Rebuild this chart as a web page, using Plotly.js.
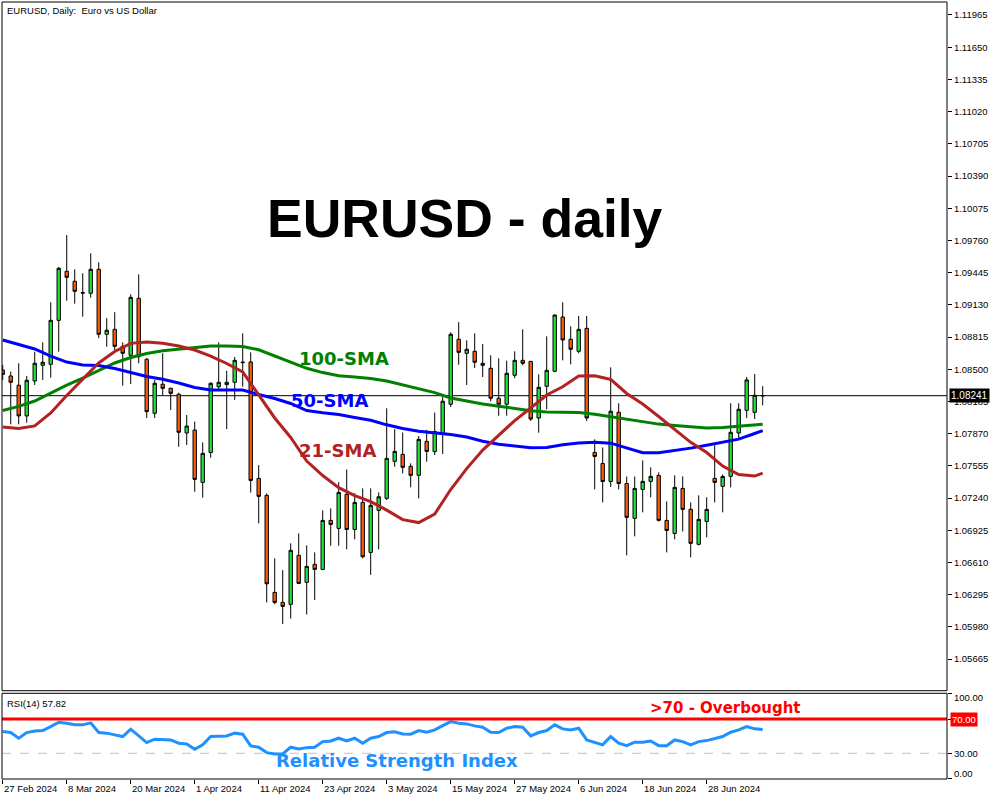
<!DOCTYPE html>
<html><head><meta charset="utf-8">
<script src="https://cdn.plot.ly/plotly-3.0.1.min.js"></script>
<style>html,body{margin:0;padding:0;background:#fff}#chart{width:1000px;height:800px}</style>
</head><body><div id="chart"></div>
<script>
// ---------- DATA ----------
const dates = [
 '2024-02-27','2024-02-28','2024-02-29',
 '2024-03-01','2024-03-04','2024-03-05','2024-03-06','2024-03-07','2024-03-08','2024-03-11','2024-03-12','2024-03-13','2024-03-14','2024-03-15','2024-03-18','2024-03-19','2024-03-20','2024-03-21','2024-03-22','2024-03-25','2024-03-26','2024-03-27','2024-03-28','2024-03-29',
 '2024-04-01','2024-04-02','2024-04-03','2024-04-04','2024-04-05','2024-04-08','2024-04-09','2024-04-10','2024-04-11','2024-04-12','2024-04-15','2024-04-16','2024-04-17','2024-04-18','2024-04-19','2024-04-22','2024-04-23','2024-04-24','2024-04-25','2024-04-26','2024-04-29','2024-04-30',
 '2024-05-01','2024-05-02','2024-05-03','2024-05-06','2024-05-07','2024-05-08','2024-05-09','2024-05-10','2024-05-13','2024-05-14','2024-05-15','2024-05-16','2024-05-17','2024-05-20','2024-05-21','2024-05-22','2024-05-23','2024-05-24','2024-05-27','2024-05-28','2024-05-29','2024-05-30','2024-05-31',
 '2024-06-03','2024-06-04','2024-06-05','2024-06-06','2024-06-07','2024-06-10','2024-06-11','2024-06-12','2024-06-13','2024-06-14','2024-06-17','2024-06-18','2024-06-19','2024-06-20','2024-06-21','2024-06-24','2024-06-25','2024-06-26','2024-06-27','2024-06-28',
 '2024-07-01','2024-07-02','2024-07-03','2024-07-04','2024-07-05','2024-07-08','2024-07-09'
];
const openP = [1.08492,1.08434,1.08343,1.08043,1.08385,1.08538,1.08548,1.08978,1.09458,1.09360,
 1.09250,1.09243,1.09477,1.08842,1.08890,1.08724,1.08636,1.09194,1.08597,1.08069,
 1.08353,1.08313,1.08255,1.07876,1.07905,1.07393,1.07686,1.08329,1.08350,1.08372,
 1.08570,1.08571,1.07432,1.07266,1.06317,1.06219,1.06200,1.06679,1.06415,1.06591,
 1.06542,1.07021,1.06943,1.07276,1.06933,1.07197,1.06708,1.07119,1.07237,1.07599,
 1.07667,1.07550,1.07462,1.07794,1.07694,1.07870,1.08157,1.08793,1.08656,1.08675,
 1.08558,1.08509,1.08216,1.08157,1.08441,1.08587,1.08577,1.08023,1.08333,1.08480,
 1.09011,1.08793,1.08675,1.08900,1.07686,1.07578,1.07402,1.08079,1.07382,1.07041,
 1.07324,1.07403,1.07461,1.07021,1.06894,1.07334,1.07129,1.06787,1.07011,1.07432,
 1.07354,1.07452,1.07876,1.08098,1.08078,1.08240];
const highP = [1.08541,1.08476,1.08558,1.08434,1.08671,1.08763,1.09155,1.09500,1.09813,1.09477,
 1.09438,1.09634,1.09546,1.08999,1.09058,1.08763,1.09233,1.09428,1.08610,1.08395,
 1.08656,1.08320,1.08270,1.08052,1.07987,1.07784,1.08372,1.08763,1.08485,1.08620,
 1.08851,1.08665,1.07562,1.07286,1.06650,1.06535,1.06797,1.06894,1.06777,1.06708,
 1.07119,1.07139,1.07396,1.07519,1.07286,1.07334,1.07334,1.07295,1.08118,1.07914,
 1.07881,1.07579,1.07846,1.07907,1.08076,1.08238,1.08861,1.08960,1.08783,1.08851,
 1.08747,1.08636,1.08607,1.08583,1.08675,1.08890,1.08580,1.08450,1.08822,1.09035,
 1.09155,1.08920,1.09021,1.09021,1.07814,1.07735,1.08518,1.08167,1.07451,1.07451,
 1.07608,1.07540,1.07491,1.07207,1.07462,1.07452,1.07197,1.07266,1.07247,1.07755,
 1.07471,1.08167,1.08167,1.08424,1.08453,1.08335];
const lowP = [1.08395,1.07961,1.07961,1.07977,1.08346,1.08395,1.08418,1.08671,1.09170,1.09141,
 1.09014,1.09200,1.08803,1.08720,1.08671,1.08339,1.08356,1.08558,1.08023,1.08023,
 1.08248,1.08101,1.07742,1.07758,1.07301,1.07243,1.07634,1.08297,1.07914,1.08199,
 1.08329,1.07293,1.06992,1.06219,1.06200,1.06007,1.06061,1.06400,1.06100,1.06242,
 1.06535,1.06773,1.06773,1.06738,1.06836,1.06650,1.06489,1.06738,1.07220,1.07546,
 1.07481,1.07345,1.07237,1.07595,1.07660,1.07670,1.08130,1.08544,1.08346,1.08512,
 1.08424,1.08186,1.08045,1.08045,1.08412,1.08538,1.07994,1.07879,1.08108,1.08470,
 1.08587,1.08548,1.08656,1.07994,1.07325,1.07197,1.07347,1.07325,1.06679,1.06865,
 1.07100,1.07247,1.07011,1.06708,1.06836,1.06913,1.06660,1.06777,1.06856,1.07197,
 1.07100,1.07344,1.07814,1.08023,1.08013,1.08147];
const closeP = [1.08450,1.08372,1.08043,1.08392,1.08558,1.08568,1.08978,1.09487,1.09399,1.09262,
 1.09245,1.09477,1.08842,1.08881,1.08724,1.08656,1.09203,1.08622,1.08085,1.08362,
 1.08313,1.08264,1.07883,1.07944,1.07422,1.07677,1.08362,1.08372,1.08372,1.08587,
 1.08565,1.07412,1.07256,1.06401,1.06219,1.06180,1.06728,1.06405,1.06571,1.06542,
 1.07021,1.06982,1.07295,1.06933,1.07197,1.06665,1.07168,1.07252,1.07628,1.07696,
 1.07540,1.07462,1.07814,1.07696,1.07890,1.08187,1.08842,1.08665,1.08695,1.08568,
 1.08538,1.08216,1.08157,1.08460,1.08587,1.08558,1.08013,1.08323,1.08489,1.09030,
 1.08786,1.08695,1.08890,1.08023,1.07647,1.07402,1.08089,1.07382,1.07051,1.07334,
 1.07403,1.07452,1.07021,1.06923,1.07344,1.07129,1.06797,1.07031,1.07129,1.07393,
 1.07451,1.07883,1.08108,1.08395,1.08245,1.08241];
// moving averages read every second bar (plus the last bar)
const sma21 = [1.07935,1.07920,1.07945,1.08072,1.08243,1.08400,1.08561,1.08673,1.08753,1.08766,
 1.08753,1.08727,1.08688,1.08629,1.08556,1.08473,1.08253,1.08023,1.07832,1.07602,
 1.07460,1.07342,1.07264,1.07205,1.07122,1.07029,1.07000,1.07083,1.07323,1.07528,
 1.07709,1.07856,1.07998,1.08121,1.08248,1.08328,1.08434,1.08436,1.08400,1.08263,
 1.08160,1.08038,1.07915,1.07785,1.07685,1.07553,1.07470,1.07455,1.07484];
const sma50 = [1.08786,1.08741,1.08698,1.08629,1.08570,1.08541,1.08536,1.08507,1.08468,1.08429,
 1.08401,1.08365,1.08321,1.08297,1.08297,1.08297,1.08253,1.08214,1.08165,1.08096,
 1.08074,1.08057,1.08028,1.08001,1.07956,1.07920,1.07893,1.07878,1.07862,1.07837,
 1.07795,1.07767,1.07752,1.07732,1.07735,1.07761,1.07779,1.07785,1.07777,1.07728,
 1.07684,1.07684,1.07705,1.07728,1.07757,1.07786,1.07816,1.07871,1.07899];
const sma100 = [1.08096,1.08136,1.08189,1.08267,1.08345,1.08414,1.08485,1.08561,1.08614,1.08653,
 1.08681,1.08696,1.08715,1.08727,1.08727,1.08722,1.08690,1.08629,1.08563,1.08509,
 1.08467,1.08436,1.08424,1.08410,1.08384,1.08346,1.08311,1.08271,1.08218,1.08186,
 1.08160,1.08138,1.08116,1.08093,1.08081,1.08078,1.08076,1.08060,1.08035,1.08013,
 1.07983,1.07963,1.07949,1.07935,1.07924,1.07930,1.07942,1.07954,1.07961];
const rsi14 = [55.3,54.2,47.6,54.2,56.1,56.5,61.2,66.3,65.1,63.2,
 63.2,65.5,54.2,53.5,51.5,49.5,58.1,50.3,42.5,46.4,
 45.6,45.6,41.8,40.9,34.7,39.8,49.5,50.3,50.3,53.5,
 52.3,38.6,37.1,30.8,29.2,29.2,37.1,35.1,36.6,37.1,
 43.6,44.4,47.6,44.4,47.6,41.8,47.6,49.5,54.2,55.0,
 52.6,52.3,56.5,54.6,57.3,62.3,67.0,65.1,64.3,62.0,
 60.5,54.6,54.2,59.3,61.2,60.5,50.3,54.2,56.5,63.2,
 58.5,57.3,59.3,45.6,42.5,39.8,49.5,41.8,38.9,42.9,
 42.9,44.4,38.9,38.9,45.6,43.6,39.8,43.6,44.8,47.6,
 49.5,54.6,57.3,61.2,58.5,57.82];
const priceTicks = [1.05665,1.05980,1.06295,1.06610,1.06925,1.07240,1.07555,1.07870,1.08185,1.08500,
 1.08815,1.09130,1.09445,1.09760,1.10075,1.10390,1.10705,1.11020,1.11335,1.11650,1.11965];
const dateTicks = ['2024-02-27','2024-03-08','2024-03-20','2024-04-01','2024-04-11','2024-04-23',
 '2024-05-03','2024-05-15','2024-05-27','2024-06-06','2024-06-18','2024-06-28'];
const dateTickLabels = ['27 Feb 2024','8 Mar 2024','20 Mar 2024','1 Apr 2024','11 Apr 2024','23 Apr 2024',
 '3 May 2024','15 May 2024','27 May 2024','6 Jun 2024','18 Jun 2024','28 Jun 2024'];
const lastPrice = 1.08241;
const rsiOverbought = 70, rsiLow = 30;
const rsiAxisTicks = [0, 30, 70, 100];

// ---------- CHART ----------
const smaDates = dates.filter((d, i) => i % 2 === 0 || i === dates.length - 1);
const TICKFONT = {family: 'Liberation Sans, Arial, sans-serif', size: 9.5, color: '#000'};

const traces = [
  {type: 'candlestick', x: dates, open: openP, high: highP, low: lowP, close: closeP,
   xaxis: 'x', yaxis: 'y', whiskerwidth: 0, hoverinfo: 'skip',
   increasing: {line: {color: '#000', width: 1}, fillcolor: '#1ee63a'},
   decreasing: {line: {color: '#000', width: 1}, fillcolor: '#ff5a0a'}},
  {type: 'scatter', mode: 'lines', x: smaDates, y: sma100, xaxis: 'x', yaxis: 'y',
   line: {color: '#008000', width: 3}},
  {type: 'scatter', mode: 'lines', x: smaDates, y: sma50, xaxis: 'x', yaxis: 'y',
   line: {color: '#0000ff', width: 3}},
  {type: 'scatter', mode: 'lines', x: smaDates, y: sma21, xaxis: 'x', yaxis: 'y',
   line: {color: '#b22222', width: 3}},
  {type: 'scatter', mode: 'lines', x: dates, y: rsi14, xaxis: 'x', yaxis: 'y2',
   line: {color: '#1e90ff', width: 3}}
];

const annotations = [];
dateTicks.forEach((d, k) => {
  annotations.push({xref: 'x', x: dates.indexOf(d), xanchor: 'left', xshift: -1,
    yref: 'paper', y: 0, yanchor: 'middle', yshift: -9, showarrow: false,
    text: dateTickLabels[k], font: TICKFONT});
});
annotations.push(
  {xref: 'paper', x: 0, xanchor: 'left', xshift: 3, yref: 'paper', y: 1, yanchor: 'middle', yshift: -8,
   showarrow: false, text: 'EURUSD, Daily:  Euro vs US Dollar', font: TICKFONT},
  {xref: 'paper', x: 0, xanchor: 'left', xshift: 3, yref: 'y2 domain', y: 1, yanchor: 'middle', yshift: -10,
   showarrow: false, text: 'RSI(14) ' + rsi14[rsi14.length - 1].toFixed(2), font: TICKFONT},
  {xref: 'paper', x: 0.4899, xanchor: 'center', yref: 'paper', y: 0.722, yanchor: 'middle',
   showarrow: false, text: '<b>EURUSD - daily</b>',
   font: {family: 'Liberation Sans, Arial, sans-serif', size: 53.5, color: '#000'}},
  {xref: 'paper', x: 0.3619, xanchor: 'center', yref: 'paper', y: 0.5418, yanchor: 'middle',
   showarrow: false, text: '<b>100-SMA</b>', font: {family: 'DejaVu Sans', size: 18, color: '#008000'}},
  {xref: 'paper', x: 0.3466, xanchor: 'center', yref: 'paper', y: 0.4865, yanchor: 'middle',
   showarrow: false, text: '<b>50-SMA</b>', font: {family: 'DejaVu Sans', size: 18, color: '#0000ff'}},
  {xref: 'paper', x: 0.355, xanchor: 'center', yref: 'paper', y: 0.4234, yanchor: 'middle',
   showarrow: false, text: '<b>21-SMA</b>', font: {family: 'DejaVu Sans', size: 18, color: '#b22222'}},
  {xref: 'paper', x: 0.4185, xanchor: 'center', yref: 'paper', y: 0.0237, yanchor: 'middle',
   showarrow: false, text: '<b>Relative Strength Index</b>', font: {family: 'DejaVu Sans', size: 18, color: '#1e90ff'}},
  {xref: 'paper', x: 0.7654, xanchor: 'center', yref: 'paper', y: 0.092, yanchor: 'middle',
   showarrow: false, text: '<b>&gt;70 - Overbought</b>', font: {family: 'DejaVu Sans', size: 15, color: '#ff0000'}},
  {xref: 'paper', x: 1, xanchor: 'left', xshift: 2, yref: 'y', y: lastPrice, yanchor: 'middle',
   showarrow: false, text: lastPrice.toFixed(5), bgcolor: '#000', borderpad: 1,
   font: {family: 'Liberation Sans, Arial, sans-serif', size: 10, color: '#fff'}},
  {xref: 'paper', x: 1, xanchor: 'left', xshift: 3, yref: 'y2', y: rsiOverbought, yanchor: 'middle',
   showarrow: false, text: rsiOverbought.toFixed(2), bgcolor: '#ff0000', borderpad: 1,
   font: {family: 'Liberation Sans, Arial, sans-serif', size: 9.5, color: '#fff'}},
  {xref: 'paper', x: 1, xanchor: 'left', xshift: 5, yref: 'y2', y: 100, yanchor: 'middle', yshift: -4,
   showarrow: false, text: (100).toFixed(2), font: TICKFONT},
  {xref: 'paper', x: 1, xanchor: 'left', xshift: 5, yref: 'y2', y: rsiLow, yanchor: 'middle',
   showarrow: false, text: rsiLow.toFixed(2), font: TICKFONT},
  {xref: 'paper', x: 1, xanchor: 'left', xshift: 5, yref: 'y2', y: 0, yanchor: 'middle', yshift: 5,
   showarrow: false, text: (0).toFixed(2), font: TICKFONT}
);

const shapes = [
  {type: 'line', xref: 'x domain', x0: 0, x1: 1, yref: 'y', y0: lastPrice, y1: lastPrice,
   line: {color: '#000', width: 1}, layer: 'below'},
  {type: 'line', xref: 'x domain', x0: 0, x1: 1, yref: 'y2', y0: rsiLow, y1: rsiLow,
   line: {color: '#c0c0c0', width: 1, dash: 'dash'}, layer: 'below'},
  {type: 'line', xref: 'x domain', x0: 0, x1: 1, yref: 'y2', y0: rsiOverbought, y1: rsiOverbought,
   line: {color: '#ff0000', width: 3}},
  {type: 'rect', xref: 'x domain', x0: 0, x1: 1, yref: 'y domain', y0: 0, y1: 1,
   line: {color: '#000', width: 1}},
  {type: 'rect', xref: 'x domain', x0: 0, x1: 1, yref: 'y2 domain', y0: 0, y1: 1,
   line: {color: '#000', width: 1}}
];

const layout = {
  width: 1000, height: 800,
  margin: {l: 2, r: 53, t: 2, b: 21, pad: 0},
  paper_bgcolor: '#fff', plot_bgcolor: '#fff',
  showlegend: false, boxgap: 0.4, hovermode: false,
  xaxis: {type: 'category', range: [-0.09, 118.04], anchor: 'y2', showgrid: false, zeroline: false,
    showline: false, ticks: 'outside', ticklen: 4, tickcolor: '#000', tickwidth: 1,
    tickvals: dateTicks, showticklabels: false, rangeslider: {visible: false}, fixedrange: true},
  yaxis: {domain: [0.1136, 1], range: [1.05355, 1.12092], side: 'right', anchor: 'x',
    showgrid: false, zeroline: false, showline: false, ticks: 'outside', ticklen: 4,
    tickcolor: '#000', tickwidth: 1, tickvals: priceTicks, ticktext: priceTicks.map(v => v.toFixed(5)),
    tickfont: TICKFONT, fixedrange: true},
  yaxis2: {domain: [0, 0.1103], range: [0, 100], side: 'right', anchor: 'x',
    showgrid: false, zeroline: false, showline: false, ticks: 'outside', ticklen: 4,
    tickcolor: '#000', tickwidth: 1, tickvals: rsiAxisTicks, showticklabels: false, fixedrange: true},
  annotations: annotations,
  shapes: shapes
};

Plotly.newPlot('chart', traces, layout, {displayModeBar: false, staticPlot: true});
</script>
</body></html>
